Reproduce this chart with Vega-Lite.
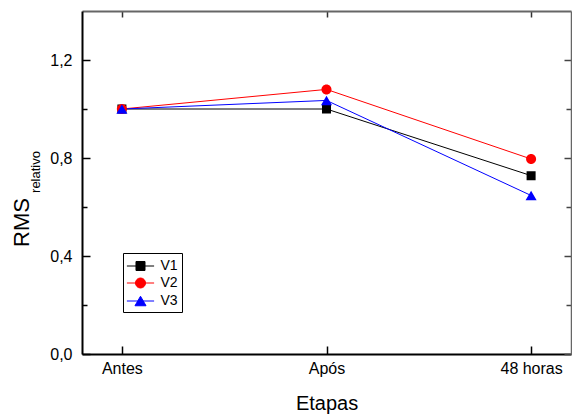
{
  "$schema": "https://vega.github.io/schema/vega-lite/v6.json",
  "width": 489,
  "height": 343,
  "autosize": "none",
  "padding": {"left": 82, "top": 11, "right": 1, "bottom": 60},
  "config": {
    "view": {"stroke": null},
    "font": "Liberation Sans",
    "axis": {"grid": false, "labelColor": "black", "labelFont": "Liberation Sans", "titleFont": "Liberation Sans", "titleColor": "black", "titleFontWeight": "normal", "labelOverlap": false, "labelFlush": false}
  },
  "title": {"text": "RMS", "orient": "left", "anchor": "middle", "fontSize": 22, "fontWeight": "normal", "font": "Liberation Sans", "color": "black", "offset": -5, "dx": -40},
  "data": {
    "values": [
      {"etapa": "Antes", "serie": "V1", "rms": 1.0},
      {"etapa": "Após", "serie": "V1", "rms": 1.0},
      {"etapa": "48 horas", "serie": "V1", "rms": 0.728},
      {"etapa": "Antes", "serie": "V2", "rms": 1.0},
      {"etapa": "Após", "serie": "V2", "rms": 1.08},
      {"etapa": "48 horas", "serie": "V2", "rms": 0.796},
      {"etapa": "Antes", "serie": "V3", "rms": 1.0},
      {"etapa": "Após", "serie": "V3", "rms": 1.035},
      {"etapa": "48 horas", "serie": "V3", "rms": 0.647}
    ]
  },
  "layer": [
    {
      "mark": {"type": "line", "strokeWidth": 1},
      "encoding": {
        "x": {"field": "etapa", "type": "nominal", "sort": ["Antes", "Após", "48 horas"], "scale": {"type": "point", "padding": 0.195},
          "axis": {"orient": "bottom", "title": "Etapas", "titleFontSize": 20, "titleY": 55, "titleBaseline": "alphabetic", "labelAngle": 0, "labelFontSize": 16, "labelPadding": 14, "tickSize": -8, "tickColor": "black", "tickWidth": 1.5, "domainColor": "black", "domainWidth": 2}},
        "y": {"field": "rms", "type": "quantitative", "scale": {"domain": [0, 1.4], "nice": false, "zero": true},
          "axis": {"orient": "left", "title": "relativo", "titleFontSize": 13, "titleX": -43, "titleY": 160.5, "titleAngle": -90, "titleBaseline": "alphabetic", "titleAlign": "center",
            "values": [0, 0.2, 0.4, 0.6, 0.8, 1.0, 1.2],
            "labelExpr": "round(datum.value*10)%4==0 ? replace(format(datum.value,'.1f'),'.',',') : ''",
            "tickSize": {"condition": {"test": "round(datum.value*10)%4==0", "value": -8}, "value": -5},
            "labelPadding": 18, "labelFontSize": 16, "tickColor": "black", "tickWidth": 1.5, "domainColor": "black", "domainWidth": 2}},
        "color": {"field": "serie", "type": "nominal", "scale": {"domain": ["V1", "V2", "V3"], "range": ["#000000", "#ff0000", "#0000ff"]}}
      }
    },
    {
      "mark": {"type": "point", "filled": true, "size": 289, "opacity": 1, "strokeWidth": 0},
      "encoding": {
        "x": {"field": "etapa", "type": "nominal", "sort": ["Antes", "Após", "48 horas"], "scale": {"type": "point", "padding": 0.195},
          "axis": {"orient": "top", "title": null, "labels": false, "tickSize": -6, "tickColor": "#333333", "tickWidth": 1.5, "domainColor": "#666666", "domainWidth": 2}},
        "y": {"field": "rms", "type": "quantitative", "scale": {"domain": [0, 1.4], "nice": false, "zero": true},
          "axis": {"orient": "right", "title": null, "labels": false, "values": [0, 0.2, 0.4, 0.6, 0.8, 1.0, 1.2],
            "tickSize": {"condition": {"test": "round(datum.value*10)%4==0", "value": -7}, "value": -5},
            "tickColor": "#444444", "tickWidth": 1.5, "domainColor": "#666666", "domainWidth": 1.5}},
        "color": {"field": "serie", "type": "nominal", "scale": {"domain": ["V1", "V2", "V3"], "range": ["#000000", "#ff0000", "#0000ff"]},
          "legend": {"orient": "none", "legendX": 41, "legendY": 242, "title": null, "strokeColor": "black", "fillColor": "white", "padding": 4, "labelFontSize": 14, "labelColor": "black", "labelFont": "Liberation Sans", "symbolSize": 289, "symbolStrokeWidth": 1, "symbolOffset": 4.5, "rowPadding": 1, "labelOffset": 11}},
        "stroke": {"field": "serie", "type": "nominal", "scale": {"domain": ["V1", "V2", "V3"], "range": ["#000000", "#ff0000", "#0000ff"]}},
        "shape": {"field": "serie", "type": "nominal", "scale": {"domain": ["V1", "V2", "V3"], "range": [
          "M-1.6,0H1.6M-0.53,-0.53H0.53V0.53H-0.53Z",
          "M-1.6,0H1.6M0.59,0A0.59,0.59,0,1,1,-0.59,0A0.59,0.59,0,1,1,0.59,0Z",
          "M-1.6,0H1.6M0,-0.56L0.65,0.56H-0.65Z"
        ]}}
      }
    }
  ],
  "resolve": {"axis": {"x": "independent", "y": "independent"}}
}
